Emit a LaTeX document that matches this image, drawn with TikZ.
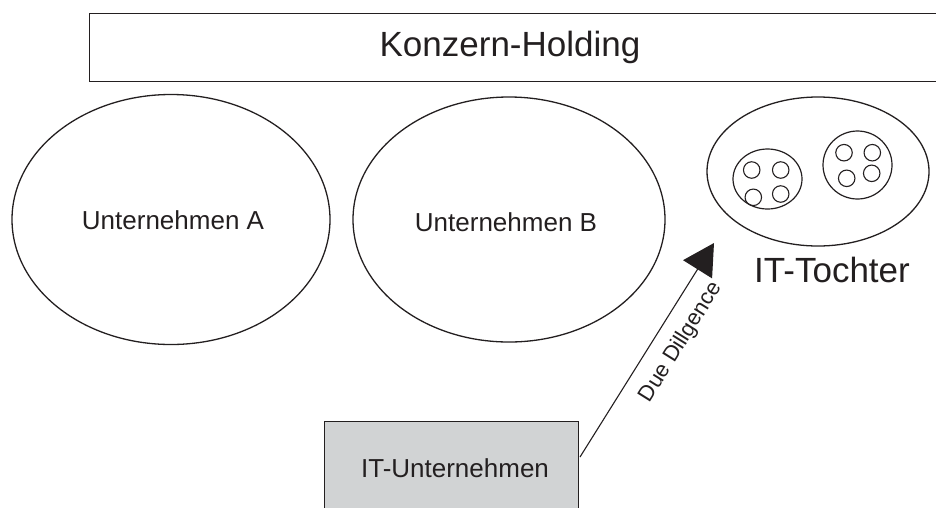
\documentclass[tikz,border=0pt]{standalone}
\usepackage{fontspec}
\setmainfont{Liberation Sans}
\usetikzlibrary{shapes.geometric,arrows.meta}
\definecolor{ink}{HTML}{231F20}
\definecolor{boxgray}{HTML}{D1D3D4}
\tikzset{
  outline/.style={draw=ink, line width=1.3pt},
  company/.style={outline, ellipse, inner sep=0pt},
  chip/.style={draw=ink, line width=1.1pt, circle, inner sep=0pt, minimum size=16.5pt},
  bigtext/.style={font=\fontsize{35}{40}\selectfont, text=ink, inner sep=0pt},
  midtext/.style={font=\fontsize{26}{30}\selectfont, text=ink, inner sep=0pt},
  smalltext/.style={font=\fontsize{22}{26}\selectfont, text=ink},
}
\begin{document}
\begin{tikzpicture}[x=1pt, y=-1pt]
\useasboundingbox (0,0) rectangle (936,507);

% holding bar across the top
\node[outline, rectangle, anchor=north west, minimum width=870pt, minimum height=68pt, inner sep=0pt] (holding) at (89,13) {};
\node[bigtext] (holdingtext) at (510,47) {Konzern-Holding};

% member companies
\node[company, minimum width=318pt, minimum height=250pt] (ua) at (171,219.5) {};
\node[midtext] (uatext) at (173,220) {Unternehmen A};
\node[company, minimum width=312pt, minimum height=245pt] (ub) at (509,219.5) {};
\node[midtext] (ubtext) at (506,222) {Unternehmen B};

% IT subsidiary with its two units
\node[company, minimum width=222pt, minimum height=149pt] (itt) at (818,171.5) {};
\node[company, line width=1.2pt, minimum width=69pt, minimum height=60pt] (unit1) at (767.5,179) {};
\node[company, line width=1.2pt, minimum width=69pt, minimum height=68pt] (unit2) at (857.5,165) {};
\node[chip] (c11) at (751.7,170) {};
\node[chip] (c12) at (780.7,170) {};
\node[chip] (c13) at (753.3,197.3) {};
\node[chip] (c14) at (780.7,194) {};
\node[chip] (c21) at (844,152.7) {};
\node[chip] (c22) at (872.3,152.7) {};
\node[chip] (c23) at (846.7,178.3) {};
\node[chip] (c24) at (871.7,173.3) {};
\node[bigtext] (itttext) at (832,270) {IT-Tochter};

% acquired IT company
\node[outline, rectangle, fill=boxgray, anchor=north west, minimum width=254pt, minimum height=110pt, inner sep=0pt] (itu) at (324,421) {};
\node[midtext] (itutext) at (455,468) {IT-Unternehmen};

% due diligence arrow
\coordinate (ddtail) at (580,457);
\coordinate (ddtip) at (714,243);
\draw[draw=ink, line width=1.1pt, -{Triangle[length=31pt, width=34pt]}, ink]
  (ddtail) -- (ddtip)
  node[pos=0.598, sloped, anchor=north, inner xsep=0pt, inner ysep=14pt, smalltext] (ddlabel) {Due Dillgence};
\end{tikzpicture}
\end{document}
